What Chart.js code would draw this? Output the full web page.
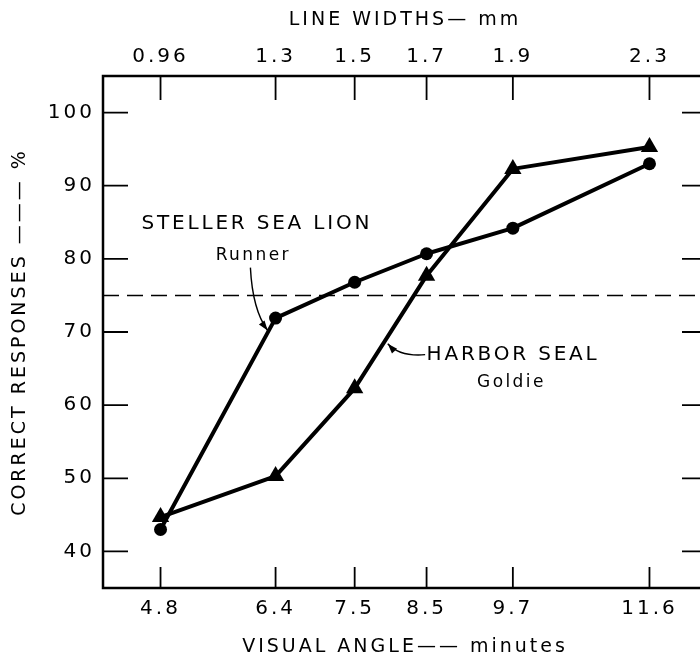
<!DOCTYPE html>
<html>
<head>
<meta charset="utf-8">
<script src="https://cdn.jsdelivr.net/npm/chart.js@4.4.1/dist/chart.umd.min.js"></script>
<style>
  html, body { margin: 0; padding: 0; background: #fff; overflow: hidden; }
  #wrap { width: 700px; height: 658px; overflow: hidden; }
</style>
</head>
<body>
<div id="wrap"><canvas id="chart" width="720" height="658"></canvas></div>
<script>
// visual angle (minutes) on the bottom axis, matching line widths (mm) on top
const visualAngle = [4.8, 6.4, 7.5, 8.5, 9.7, 11.6];
const angleLabels = ['4.8', '6.4', '7.5', '8.5', '9.7', '11.6'];
const lineWidthLabels = ['0.96', '1.3', '1.5', '1.7', '1.9', '2.3'];

// correct responses, %
const seaLion = [43.0, 71.9, 76.8, 80.7, 84.2, 93.0];
const harborSeal = [44.7, 50.3, 62.3, 77.7, 92.3, 95.3];
const criterion = 75;

const yTicks = [40, 50, 60, 70, 80, 90, 100];
const xRange = [4.0, 12.4];
const yRange = [35, 105];

// labels and arrows, placed in data units
const notes = [
  { text: 'STELLER SEA LION', x: 6.14, y: 84.8, size: 20, align: 'center' },
  { text: 'Runner', x: 6.09, y: 80.4, size: 17, align: 'center' },
  { text: 'HARBOR SEAL', x: 8.5, y: 66.95, size: 20, align: 'left' },
  { text: 'Goldie', x: 9.68, y: 63.1, size: 17, align: 'center' }
];
const arrows = [
  { from: [6.05, 78.8], bend: [6.08, 73.0], to: [6.29, 70.2] },
  { from: [8.48, 66.9], bend: [8.13, 66.6], to: [7.96, 68.4] }
];

const toPoints = (xs, ys) => xs.map((x, i) => ({ x: x, y: ys[i] }));

const spacing = {
  id: 'spacing',
  beforeDraw: (chart) => {
    chart.ctx.letterSpacing = '3px';
  }
};

const frame = {
  id: 'frame',
  afterDatasetsDraw: (chart) => {
    const ctx = chart.ctx;
    const a = chart.chartArea;
    const x = chart.scales.x;
    const y = chart.scales.y;
    ctx.save();
    ctx.strokeStyle = '#000';
    ctx.lineWidth = 2.5;
    ctx.strokeRect(a.left, a.top, a.right - a.left, a.bottom - a.top);
    ctx.lineWidth = 1.8;
    ctx.beginPath();
    for (let i = 0; i < visualAngle.length; i++) {
      let px = x.getPixelForValue(visualAngle[i]);
      ctx.moveTo(px, a.top);
      ctx.lineTo(px, a.top + 24);
      ctx.moveTo(px, a.bottom);
      ctx.lineTo(px, a.bottom - 21);
    }
    for (let i = 0; i < yTicks.length; i++) {
      let py = y.getPixelForValue(yTicks[i]);
      ctx.moveTo(a.left, py);
      ctx.lineTo(a.left + 25, py);
      ctx.moveTo(a.right, py);
      ctx.lineTo(a.right - 25, py);
    }
    ctx.stroke();
    ctx.restore();
  }
};

const annotations = {
  id: 'annotations',
  afterDatasetsDraw: (chart) => {
    const ctx = chart.ctx;
    const x = chart.scales.x;
    const y = chart.scales.y;
    ctx.save();
    ctx.fillStyle = '#000';
    ctx.strokeStyle = '#000';
    ctx.textBaseline = 'middle';
    notes.forEach(n => {
      ctx.font = n.size + 'px "DejaVu Sans"';
      ctx.letterSpacing = n.size > 18 ? '2.8px' : '2.4px';
      ctx.textAlign = n.align;
      ctx.fillText(n.text, x.getPixelForValue(n.x), y.getPixelForValue(n.y));
    });
    ctx.lineWidth = 1.4;
    arrows.forEach(ar => {
      const x0 = x.getPixelForValue(ar.from[0]), y0 = y.getPixelForValue(ar.from[1]);
      const cx = x.getPixelForValue(ar.bend[0]), cy = y.getPixelForValue(ar.bend[1]);
      const x1 = x.getPixelForValue(ar.to[0]), y1 = y.getPixelForValue(ar.to[1]);
      ctx.beginPath();
      ctx.moveTo(x0, y0);
      ctx.quadraticCurveTo(cx, cy, x1, y1);
      ctx.stroke();
      const ang = Math.atan2(y1 - cy, x1 - cx);
      ctx.beginPath();
      ctx.moveTo(x1, y1);
      ctx.lineTo(x1 - 10 * Math.cos(ang) + 3.5 * Math.sin(ang), y1 - 10 * Math.sin(ang) - 3.5 * Math.cos(ang));
      ctx.lineTo(x1 - 10 * Math.cos(ang) - 3.5 * Math.sin(ang), y1 - 10 * Math.sin(ang) + 3.5 * Math.cos(ang));
      ctx.closePath();
      ctx.fill();
    });
    ctx.restore();
  }
};

Chart.defaults.font.family = '"DejaVu Sans"';
Chart.defaults.font.size = 20;
Chart.defaults.color = '#000';

const setAngleTicks = (scale) => {
  scale.ticks = visualAngle.map(v => ({ value: v }));
};

var ctx = document.getElementById('chart').getContext('2d');
var myChart = new Chart(ctx, {
  type: 'line',
  plugins: [spacing, frame, annotations],
  data: {
    datasets: [{
      label: 'Steller sea lion (Runner)',
      data: toPoints(visualAngle, seaLion),
      borderColor: '#000',
      backgroundColor: '#000',
      borderWidth: 4,
      borderJoinStyle: 'round',
      pointStyle: 'circle',
      pointRadius: 6.5,
      pointBorderWidth: 0,
      tension: 0
    }, {
      label: 'Harbor seal (Goldie)',
      data: toPoints(visualAngle, harborSeal),
      borderColor: '#000',
      backgroundColor: '#000',
      borderWidth: 4,
      borderJoinStyle: 'round',
      pointStyle: 'triangle',
      pointRadius: 10,
      pointBorderWidth: 0,
      tension: 0
    }, {
      label: 'criterion',
      data: toPoints(xRange, [criterion, criterion]),
      borderColor: '#000',
      borderWidth: 1.5,
      borderDash: [16, 8],
      pointRadius: 0
    }]
  },
  options: {
    responsive: false,
    animation: false,
    devicePixelRatio: 1,
    layout: { padding: { top: 0, right: 13, bottom: 0, left: 0 } },
    plugins: {
      legend: { display: false },
      tooltip: { enabled: false }
    },
    scales: {
      x: {
        type: 'linear',
        position: 'bottom',
        min: xRange[0],
        max: xRange[1],
        afterBuildTicks: setAngleTicks,
        afterFit: (s) => { s.height = 70; },
        grid: { display: false, drawTicks: false },
        border: { display: false },
        ticks: {
          padding: 9,
          autoSkip: false,
          maxRotation: 0,
          callback: (v, i) => angleLabels[i]
        },
        title: {
          display: true,
          text: 'VISUAL ANGLE\u2014\u2014 minutes',
          font: { size: 19 },
          padding: { top: 0, bottom: 0 }
        }
      },
      x2: {
        type: 'linear',
        position: 'top',
        min: xRange[0],
        max: xRange[1],
        afterBuildTicks: setAngleTicks,
        afterFit: (s) => { s.height = 76; },
        grid: { display: false, drawTicks: false },
        border: { display: false },
        ticks: {
          padding: 7,
          autoSkip: false,
          maxRotation: 0,
          callback: (v, i) => lineWidthLabels[i]
        },
        title: {
          display: true,
          text: 'LINE WIDTHS\u2014 mm',
          font: { size: 19 },
          padding: { top: 9, bottom: 0 }
        }
      },
      y: {
        min: yRange[0],
        max: yRange[1],
        afterBuildTicks: (s) => { s.ticks = yTicks.map(v => ({ value: v })); },
        afterFit: (s) => { s.width = 103; },
        grid: { display: false, drawTicks: false },
        border: { display: false },
        ticks: { padding: 8 },
        title: {
          display: true,
          text: 'CORRECT RESPONSES \u2014\u2014\u2014 %',
          font: { size: 19 },
          padding: { top: 9, bottom: 0 }
        }
      }
    }
  }
});
</script>
</body>
</html>
